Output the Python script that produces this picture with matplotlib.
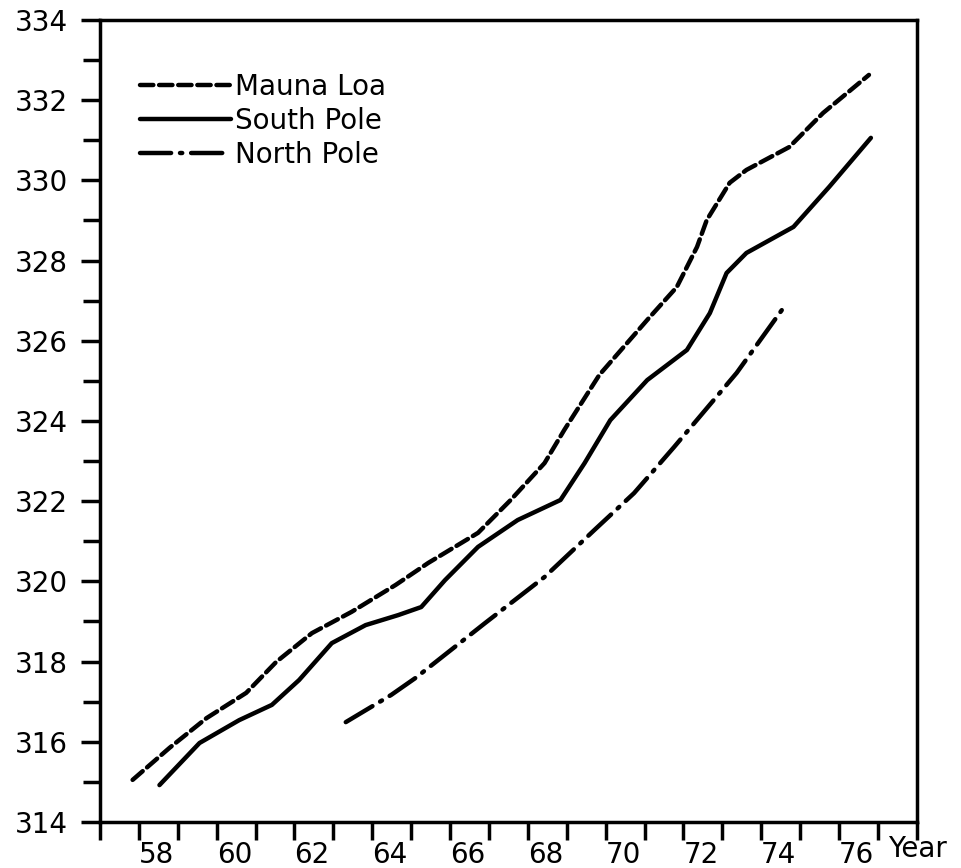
import matplotlib.pyplot as plt
from matplotlib.ticker import MultipleLocator

# CO2 concentration (ppm)
ml_year = [57.84, 58.79, 59.74, 60.76, 61.53, 62.45, 63.47, 64.60, 65.44, 66.72, 67.56,
           68.43, 68.94, 69.84, 71.07, 71.83, 72.35, 72.60, 73.19, 73.62, 74.72, 75.59, 76.77]
ml_co2 = [315.05, 315.85, 316.59, 317.22, 317.99, 318.71, 319.24, 319.91, 320.46, 321.21, 322.03,
          322.95, 323.78, 325.15, 326.52, 327.34, 328.34, 329.01, 329.94, 330.26, 330.83, 331.68, 332.63]

sp_year = [58.53, 59.56, 60.58, 61.42, 62.12, 62.96, 63.83, 64.67, 65.26, 65.87, 66.72, 67.74,
           68.84, 69.46, 70.12, 71.07, 72.09, 72.68, 73.11, 73.62, 74.83, 75.75, 76.82]
sp_co2 = [314.92, 315.97, 316.54, 316.92, 317.54, 318.46, 318.91, 319.16, 319.36, 320.03, 320.86, 321.53,
          322.03, 322.95, 324.02, 325.02, 325.77, 326.69, 327.69, 328.19, 328.84, 329.84, 331.06]

np_year = [63.32, 64.49, 65.11, 66.90, 68.43, 69.71, 70.73, 71.76, 73.37, 74.57]
np_co2 = [316.49, 317.17, 317.59, 318.96, 320.11, 321.28, 322.20, 323.35, 325.20, 326.82]

year_ticks = list(range(57, 79))
year_labels = [str(y) if (y % 2 == 0 and 58 <= y <= 76) else '' for y in year_ticks]

plt.rcParams['font.family'] = ['DejaVu Sans']
fs = 20

fig = plt.figure(figsize=(9.61, 8.68), dpi=100)
ax = fig.add_axes([0.104, 0.053, 0.850, 0.924])

kw = dict(color='black', lw=3.2, solid_joinstyle='round', solid_capstyle='round', dash_capstyle='round')
ax.plot(ml_year, ml_co2, linestyle=(0, (3, 1.3)), label='Mauna Loa', **kw)
ax.plot(sp_year, sp_co2, linestyle='-', label='South Pole', **kw)
ax.plot(np_year, np_co2, linestyle=(0, (7, 2, 0.5, 2)), label='North Pole', **kw)

ax.set_xlim(57, 78)
ax.set_ylim(314, 334)

ax.set_xticks(year_ticks)
ax.set_xticklabels(year_labels, fontsize=fs)
for lab in ax.get_xticklabels():
    lab.set_horizontalalignment('left')
ax.yaxis.set_major_locator(MultipleLocator(2))
ax.yaxis.set_minor_locator(MultipleLocator(1))
ax.tick_params(axis='y', which='major', direction='out', length=14, width=2.5, labelsize=fs, pad=9)
ax.tick_params(axis='y', which='minor', direction='out', length=12, width=2.5)
ax.tick_params(axis='x', which='major', direction='out', length=13, width=2.5, pad=1)

for s in ax.spines.values():
    s.set_linewidth(2.5)

ax.text(0.965, -0.016, 'Year', transform=ax.transAxes, fontsize=fs, ha='left', va='top')

ax.legend(loc='upper left', bbox_to_anchor=(0.035, 0.948), frameon=False, fontsize=fs,
          handlelength=3.3, handletextpad=0.15, labelspacing=0.22, borderaxespad=0)

plt.savefig('out.png', dpi=100)
